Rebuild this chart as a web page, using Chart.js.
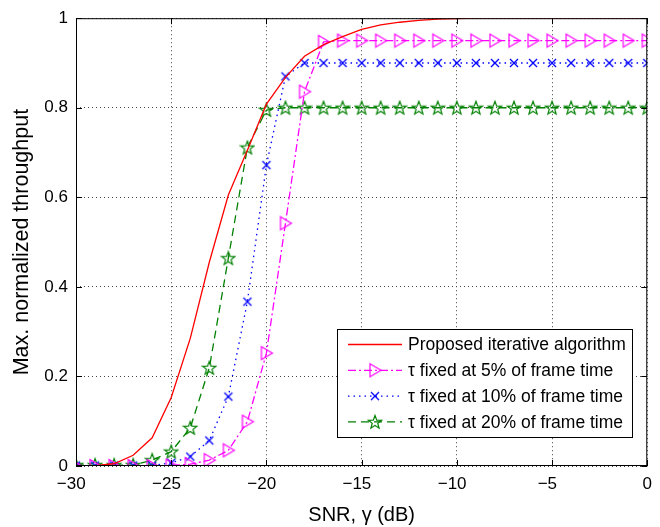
<!DOCTYPE html>
<html>
<head>
<meta charset="utf-8">
<script src="https://cdn.jsdelivr.net/npm/chart.js@4.4.1/dist/chart.umd.min.js"></script>
<style>
  html, body { margin: 0; padding: 0; background: #fff; }
  #wrap { width: 660px; height: 527px; }
</style>
</head>
<body>
<div id="wrap"><canvas id="thr"></canvas></div>
<script>
// SNR in dB
const snr = [-30,-29,-28,-27,-26,-25,-24,-23,-22,-21,-20,-19,-18,-17,-16,-15,
             -14,-13,-12,-11,-10,-9,-8,-7,-6,-5,-4,-3,-2,-1,0];

const proposed = [0,0.001,0.005,0.024,0.063,0.153,0.285,0.455,0.605,0.705,0.808,0.868,
                  0.915,0.941,0.959,0.975,0.985,0.991,0.995,0.998,0.999,1,1,1,1,1,1,1,1,1,1];
const tau5 = [0,0,0,0,0,0.001,0.004,0.013,0.035,0.099,0.252,0.542,0.836,0.947,
              0.95,0.95,0.95,0.95,0.95,0.95,0.95,0.95,0.95,0.95,0.95,0.95,0.95,0.95,0.95,0.95,0.95];
const tau10 = [0.001,0.001,0.001,0.001,0.001,0.007,0.021,0.057,0.155,0.367,0.672,0.87,0.9,
               0.9,0.9,0.9,0.9,0.9,0.9,0.9,0.9,0.9,0.9,0.9,0.9,0.9,0.9,0.9,0.9,0.9,0.9];
const tau20 = [0.002,0.002,0.002,0.002,0.013,0.032,0.085,0.219,0.464,0.711,0.795,
               0.8,0.8,0.8,0.8,0.8,0.8,0.8,0.8,0.8,0.8,0.8,0.8,0.8,0.8,0.8,0.8,0.8,0.8,0.8,0.8];

const xTicks = [-30,-25,-20,-15,-10,-5,0];
const yTicks = [0,0.2,0.4,0.6,0.8,1];

const FONT = "'Liberation Sans', Arial, Helvetica, sans-serif";

function pts(vals){ return snr.map((x,i)=>({x:x, y:vals[i]})); }

// marker images (matlab style, hollow)
function triMarker(col){
  const c=document.createElement('canvas'); c.width=16; c.height=16;
  const g=c.getContext('2d');
  g.strokeStyle=col; g.lineWidth=1.2;
  g.beginPath(); g.moveTo(3,1.5); g.lineTo(14,8); g.lineTo(3,14.5); g.closePath(); g.stroke();
  return c;
}
function starMarker(col){
  const c=document.createElement('canvas'); c.width=16; c.height=16;
  const g=c.getContext('2d');
  g.strokeStyle=col; g.lineWidth=1.2;
  g.beginPath();
  for(let k=0;k<10;k++){
    const r = k%2===0 ? 7 : 2.9;
    const a = -Math.PI/2 + k*Math.PI/5;
    const px=8+r*Math.cos(a), py=8.5+r*Math.sin(a);
    if(k===0) g.moveTo(px,py); else g.lineTo(px,py);
  }
  g.closePath(); g.stroke();
  return c;
}
function crossMarker(col){
  const c=document.createElement('canvas'); c.width=12; c.height=12;
  const g=c.getContext('2d');
  g.strokeStyle=col; g.lineWidth=1.3;
  g.beginPath(); g.moveTo(2,2); g.lineTo(10,10); g.moveTo(10,2); g.lineTo(2,10); g.stroke();
  return c;
}

const mTri = triMarker('#ff00ff');
const mCross = crossMarker('#0000ff');
const mStar = starMarker('#008000');

const series = [
  {label:'Proposed iterative algorithm', data:pts(proposed), borderColor:'#ff0000', dash:[], marker:null},
  {label:'τ fixed at 5% of frame time', data:pts(tau5), borderColor:'#ff00ff', dash:[8,3,2,3], marker:mTri},
  {label:'τ fixed at 10% of frame time', data:pts(tau10), borderColor:'#0000ff', dash:[1.5,4], marker:mCross},
  {label:'τ fixed at 20% of frame time', data:pts(tau20), borderColor:'#008000', dash:[8,5], marker:mStar}
];

const frame = {
  id:'frame',
  afterDraw(chart){
    const g=chart.ctx, a=chart.chartArea;
    const xs=chart.scales.x, ys=chart.scales.y;
    g.save();
    g.strokeStyle='#000'; g.lineWidth=1;
    g.strokeRect(a.left+0.5,a.top+0.5,a.right-a.left-1,a.bottom-a.top-1);
    g.beginPath();
    xTicks.forEach(v=>{
      const px=Math.round(xs.getPixelForValue(v))+0.5;
      g.moveTo(px,a.bottom); g.lineTo(px,a.bottom-6);
      g.moveTo(px,a.top); g.lineTo(px,a.top+6);
    });
    yTicks.forEach(v=>{
      const py=Math.round(ys.getPixelForValue(v))+0.5;
      g.moveTo(a.left,py); g.lineTo(a.left+6,py);
      g.moveTo(a.right,py); g.lineTo(a.right-6,py);
    });
    g.stroke();

    // legend box, lower right inside the axes
    const bx=337.5, by=329.5, bw=295, bh=108;
    g.fillStyle='#fff'; g.fillRect(bx,by,bw,bh);
    g.strokeRect(bx,by,bw,bh);
    g.font='17.5px '+FONT; g.textBaseline='middle'; g.fillStyle='#000';
    series.forEach((s,i)=>{
      const ry=344.5+i*25.8;
      g.save();
      g.strokeStyle=s.borderColor; g.lineWidth=1.3; g.setLineDash(s.dash);
      g.beginPath(); g.moveTo(348,ry); g.lineTo(402,ry); g.stroke();
      g.restore();
      if(s.marker){ g.drawImage(s.marker, 375-s.marker.width/2, ry-s.marker.height/2); }
      g.fillText(s.label, 408, ry+1);
    });
    g.restore();
  }
};

new Chart(document.getElementById('thr'), {
  type:'line',
  data:{
    datasets: series.map(s=>({
      label:s.label,
      data:s.data,
      borderColor:s.borderColor,
      backgroundColor:'rgba(0,0,0,0)',
      borderWidth:1.3,
      borderDash:s.dash,
      pointStyle:s.marker || 'circle',
      pointRadius:s.marker ? 5 : 0,
      pointHoverRadius:0,
      tension:0,
      fill:false
    }))
  },
  options:{
    responsive:true,
    maintainAspectRatio:false,
    animation:false,
    layout:{padding:{top:13,right:8,left:0,bottom:0}},
    plugins:{legend:{display:false}, tooltip:{enabled:false}},
    scales:{
      x:{
        type:'linear', min:-30, max:0,
        afterFit(s){ s.height=61; },
        afterBuildTicks(s){ s.ticks = xTicks.map(v=>({value:v})); },
        ticks:{
          padding:8, color:'#000', font:{family:FONT, size:17},
          // matlab centres the digits, the minus sign hangs to the left
          callback:(v)=> v<0 ? '\u2212'+Math.abs(v)+'\u2007' : String(v)
        },
        grid:{color:'#444', drawTicks:false, lineWidth:1},
        border:{display:false, dash:[1,3]},
        title:{display:true, text:'SNR, γ (dB)', color:'#000', font:{family:FONT, size:20}, padding:{top:3,bottom:0}}
      },
      y:{
        min:0, max:1,
        afterFit(s){ s.width=76; },
        afterBuildTicks(s){ s.ticks = yTicks.map(v=>({value:v})); },
        ticks:{
          padding:8, color:'#000', font:{family:FONT, size:17},
          callback:(v)=> String(Math.round(v*10)/10)
        },
        grid:{color:'#444', drawTicks:false, lineWidth:1},
        border:{display:false, dash:[1,3]},
        title:{display:true, text:'Max. normalized throughput', color:'#000', font:{family:FONT, size:21.5}, padding:{top:9,bottom:0}}
      }
    }
  },
  plugins:[frame]
});
</script>
</body>
</html>
